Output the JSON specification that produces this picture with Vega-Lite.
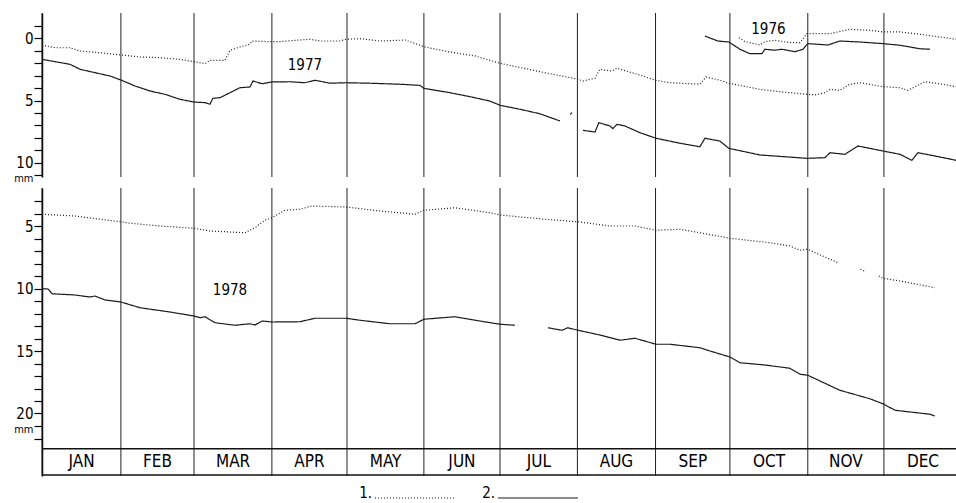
{
  "$schema": "https://vega.github.io/schema/vega-lite/v6.json",
  "background": "white",
  "padding": {"left": 5, "top": 12, "right": 0, "bottom": 0},
  "bounds": "flush",
  "spacing": 11,
  "config": {"view": {"stroke": null}, "font": "Liberation Sans Narrow, DejaVu Sans Condensed, sans-serif"},
  "resolve": {"scale": {"x": "shared", "y": "independent", "strokeDash": "shared"}, "legend": {"strokeDash": "shared"}},
  "datasets": {
    "months": [
      {"month": "JAN", "start": 0, "mid": 15.7},
      {"month": "FEB", "start": 31.3, "mid": 45.8},
      {"month": "MAR", "start": 60.3, "mid": 75.8},
      {"month": "APR", "start": 91.2, "mid": 106.1},
      {"month": "MAY", "start": 121.0, "mid": 136.3},
      {"month": "JUN", "start": 151.5, "mid": 166.6},
      {"month": "JUL", "start": 181.7, "mid": 197.1},
      {"month": "AUG", "start": 212.4, "mid": 227.9},
      {"month": "SEP", "start": 243.4, "mid": 258.2},
      {"month": "OCT", "start": 272.9, "mid": 288.4},
      {"month": "NOV", "start": 303.8, "mid": 318.9},
      {"month": "DEC", "start": 334.0, "mid": 349.5}
    ],
    "years": [
      {"panel": "top", "label": "1977", "day": 104.3, "mm": 2.14},
      {"panel": "top", "label": "1976", "day": 288.2, "mm": -0.75},
      {"panel": "bottom", "label": "1978", "day": 74.6, "mm": 10.08}
    ],
    "band": [{"edge": "top", "mm": 22.82}, {"edge": "bottom", "mm": 24.92}],
    "series": [
      {"panel": "top", "group": "77d", "series": "1.", "day": 0, "mm": 0.54},
      {"panel": "top", "group": "77d", "series": "1.", "day": 5.2, "mm": 0.76},
      {"panel": "top", "group": "77d", "series": "1.", "day": 11.1, "mm": 0.76},
      {"panel": "top", "group": "77d", "series": "1.", "day": 15.1, "mm": 1.02},
      {"panel": "top", "group": "77d", "series": "1.", "day": 23.0, "mm": 1.16},
      {"panel": "top", "group": "77d", "series": "1.", "day": 31.3, "mm": 1.34},
      {"panel": "top", "group": "77d", "series": "1.", "day": 38.9, "mm": 1.50},
      {"panel": "top", "group": "77d", "series": "1.", "day": 46.8, "mm": 1.56},
      {"panel": "top", "group": "77d", "series": "1.", "day": 54.7, "mm": 1.69},
      {"panel": "top", "group": "77d", "series": "1.", "day": 60.3, "mm": 1.88},
      {"panel": "top", "group": "77d", "series": "1.", "day": 64.7, "mm": 2.04},
      {"panel": "top", "group": "77d", "series": "1.", "day": 66.6, "mm": 1.77},
      {"panel": "top", "group": "77d", "series": "1.", "day": 72.6, "mm": 1.77},
      {"panel": "top", "group": "77d", "series": "1.", "day": 74.6, "mm": 0.96},
      {"panel": "top", "group": "77d", "series": "1.", "day": 78.5, "mm": 0.70},
      {"panel": "top", "group": "77d", "series": "1.", "day": 82.5, "mm": 0.48},
      {"panel": "top", "group": "77d", "series": "1.", "day": 83.3, "mm": 0.22},
      {"panel": "top", "group": "77d", "series": "1.", "day": 90.4, "mm": 0.27},
      {"panel": "top", "group": "77d", "series": "1.", "day": 94.4, "mm": 0.27},
      {"panel": "top", "group": "77d", "series": "1.", "day": 102.3, "mm": 0.14},
      {"panel": "top", "group": "77d", "series": "1.", "day": 106.3, "mm": 0.08},
      {"panel": "top", "group": "77d", "series": "1.", "day": 110.3, "mm": 0.22},
      {"panel": "top", "group": "77d", "series": "1.", "day": 118.2, "mm": 0.22},
      {"panel": "top", "group": "77d", "series": "1.", "day": 120.6, "mm": 0.08},
      {"panel": "top", "group": "77d", "series": "1.", "day": 126.1, "mm": 0.03},
      {"panel": "top", "group": "77d", "series": "1.", "day": 134.1, "mm": 0.22},
      {"panel": "top", "group": "77d", "series": "1.", "day": 144.0, "mm": 0.14},
      {"panel": "top", "group": "77d", "series": "1.", "day": 151.9, "mm": 0.70},
      {"panel": "top", "group": "77d", "series": "1.", "day": 161.8, "mm": 1.10},
      {"panel": "top", "group": "77d", "series": "1.", "day": 171.8, "mm": 1.42},
      {"panel": "top", "group": "77d", "series": "1.", "day": 181.7, "mm": 2.01},
      {"panel": "top", "group": "77d", "series": "1.", "day": 197.5, "mm": 2.68},
      {"panel": "top", "group": "77d", "series": "1.", "day": 212.6, "mm": 3.29},
      {"panel": "top", "group": "77d", "series": "1.", "day": 214.6, "mm": 3.43},
      {"panel": "top", "group": "77d", "series": "1.", "day": 219.4, "mm": 3.21},
      {"panel": "top", "group": "77d", "series": "1.", "day": 221.3, "mm": 2.49},
      {"panel": "top", "group": "77d", "series": "1.", "day": 226.1, "mm": 2.63},
      {"panel": "top", "group": "77d", "series": "1.", "day": 228.1, "mm": 2.41},
      {"panel": "top", "group": "77d", "series": "1.", "day": 237.2, "mm": 2.95},
      {"panel": "top", "group": "77d", "series": "1.", "day": 243.2, "mm": 3.37},
      {"panel": "top", "group": "77d", "series": "1.", "day": 249.1, "mm": 3.57},
      {"panel": "top", "group": "77d", "series": "1.", "day": 261.0, "mm": 3.69},
      {"panel": "top", "group": "77d", "series": "1.", "day": 263.4, "mm": 3.11},
      {"panel": "top", "group": "77d", "series": "1.", "day": 268.9, "mm": 3.37},
      {"panel": "top", "group": "77d", "series": "1.", "day": 272.5, "mm": 3.61},
      {"panel": "top", "group": "77d", "series": "1.", "day": 284.8, "mm": 4.10},
      {"panel": "top", "group": "77d", "series": "1.", "day": 292.7, "mm": 4.29},
      {"panel": "top", "group": "77d", "series": "1.", "day": 300.7, "mm": 4.45},
      {"panel": "top", "group": "77d", "series": "1.", "day": 306.6, "mm": 4.55},
      {"panel": "top", "group": "77d", "series": "1.", "day": 310.6, "mm": 4.37},
      {"panel": "top", "group": "77d", "series": "1.", "day": 312.6, "mm": 4.10},
      {"panel": "top", "group": "77d", "series": "1.", "day": 316.5, "mm": 4.18},
      {"panel": "top", "group": "77d", "series": "1.", "day": 320.5, "mm": 3.69},
      {"panel": "top", "group": "77d", "series": "1.", "day": 324.5, "mm": 3.57},
      {"panel": "top", "group": "77d", "series": "1.", "day": 333.6, "mm": 3.89},
      {"panel": "top", "group": "77d", "series": "1.", "day": 340.4, "mm": 3.97},
      {"panel": "top", "group": "77d", "series": "1.", "day": 343.5, "mm": 4.18},
      {"panel": "top", "group": "77d", "series": "1.", "day": 350.3, "mm": 3.49},
      {"panel": "top", "group": "77d", "series": "1.", "day": 356.2, "mm": 3.65},
      {"panel": "top", "group": "77d", "series": "1.", "day": 362.6, "mm": 3.89},

      {"panel": "top", "group": "77s1", "series": "2.", "day": 0, "mm": 1.69},
      {"panel": "top", "group": "77s1", "series": "2.", "day": 5.2, "mm": 1.88},
      {"panel": "top", "group": "77s1", "series": "2.", "day": 11.1, "mm": 2.09},
      {"panel": "top", "group": "77s1", "series": "2.", "day": 15.1, "mm": 2.49},
      {"panel": "top", "group": "77s1", "series": "2.", "day": 21.0, "mm": 2.76},
      {"panel": "top", "group": "77s1", "series": "2.", "day": 27.0, "mm": 3.03},
      {"panel": "top", "group": "77s1", "series": "2.", "day": 31.3, "mm": 3.35},
      {"panel": "top", "group": "77s1", "series": "2.", "day": 36.9, "mm": 3.83},
      {"panel": "top", "group": "77s1", "series": "2.", "day": 42.8, "mm": 4.23},
      {"panel": "top", "group": "77s1", "series": "2.", "day": 48.8, "mm": 4.50},
      {"panel": "top", "group": "77s1", "series": "2.", "day": 54.7, "mm": 4.90},
      {"panel": "top", "group": "77s1", "series": "2.", "day": 60.3, "mm": 5.12},
      {"panel": "top", "group": "77s1", "series": "2.", "day": 64.7, "mm": 5.17},
      {"panel": "top", "group": "77s1", "series": "2.", "day": 66.6, "mm": 5.30},
      {"panel": "top", "group": "77s1", "series": "2.", "day": 67.8, "mm": 4.82},
      {"panel": "top", "group": "77s1", "series": "2.", "day": 70.6, "mm": 4.77},
      {"panel": "top", "group": "77s1", "series": "2.", "day": 74.6, "mm": 4.37},
      {"panel": "top", "group": "77s1", "series": "2.", "day": 78.5, "mm": 3.97},
      {"panel": "top", "group": "77s1", "series": "2.", "day": 82.5, "mm": 3.91},
      {"panel": "top", "group": "77s1", "series": "2.", "day": 83.7, "mm": 3.43},
      {"panel": "top", "group": "77s1", "series": "2.", "day": 87.3, "mm": 3.65},
      {"panel": "top", "group": "77s1", "series": "2.", "day": 91.2, "mm": 3.51},
      {"panel": "top", "group": "77s1", "series": "2.", "day": 98.4, "mm": 3.49},
      {"panel": "top", "group": "77s1", "series": "2.", "day": 104.3, "mm": 3.57},
      {"panel": "top", "group": "77s1", "series": "2.", "day": 108.3, "mm": 3.37},
      {"panel": "top", "group": "77s1", "series": "2.", "day": 114.2, "mm": 3.61},
      {"panel": "top", "group": "77s1", "series": "2.", "day": 120.6, "mm": 3.57},
      {"panel": "top", "group": "77s1", "series": "2.", "day": 130.1, "mm": 3.61},
      {"panel": "top", "group": "77s1", "series": "2.", "day": 142.0, "mm": 3.69},
      {"panel": "top", "group": "77s1", "series": "2.", "day": 149.9, "mm": 3.78},
      {"panel": "top", "group": "77s1", "series": "2.", "day": 151.5, "mm": 4.02},
      {"panel": "top", "group": "77s1", "series": "2.", "day": 161.8, "mm": 4.37},
      {"panel": "top", "group": "77s1", "series": "2.", "day": 169.8, "mm": 4.69},
      {"panel": "top", "group": "77s1", "series": "2.", "day": 177.7, "mm": 5.04},
      {"panel": "top", "group": "77s1", "series": "2.", "day": 181.7, "mm": 5.38},
      {"panel": "top", "group": "77s1", "series": "2.", "day": 189.6, "mm": 5.70},
      {"panel": "top", "group": "77s1", "series": "2.", "day": 197.5, "mm": 6.06},
      {"panel": "top", "group": "77s1", "series": "2.", "day": 205.5, "mm": 6.64},

      {"panel": "top", "group": "77s2", "series": "2.", "day": 209.6, "mm": 6.12},
      {"panel": "top", "group": "77s2", "series": "2.", "day": 210.2, "mm": 5.96},

      {"panel": "top", "group": "77s3", "series": "2.", "day": 214.6, "mm": 7.39},
      {"panel": "top", "group": "77s3", "series": "2.", "day": 219.4, "mm": 7.53},
      {"panel": "top", "group": "77s3", "series": "2.", "day": 220.9, "mm": 6.78},
      {"panel": "top", "group": "77s3", "series": "2.", "day": 225.3, "mm": 7.04},
      {"panel": "top", "group": "77s3", "series": "2.", "day": 226.5, "mm": 7.26},
      {"panel": "top", "group": "77s3", "series": "2.", "day": 228.1, "mm": 6.91},
      {"panel": "top", "group": "77s3", "series": "2.", "day": 231.2, "mm": 7.04},
      {"panel": "top", "group": "77s3", "series": "2.", "day": 237.2, "mm": 7.58},
      {"panel": "top", "group": "77s3", "series": "2.", "day": 243.6, "mm": 8.03},
      {"panel": "top", "group": "77s3", "series": "2.", "day": 253.1, "mm": 8.43},
      {"panel": "top", "group": "77s3", "series": "2.", "day": 261.0, "mm": 8.71},
      {"panel": "top", "group": "77s3", "series": "2.", "day": 263.0, "mm": 8.03},
      {"panel": "top", "group": "77s3", "series": "2.", "day": 268.9, "mm": 8.25},
      {"panel": "top", "group": "77s3", "series": "2.", "day": 272.5, "mm": 8.84},
      {"panel": "top", "group": "77s3", "series": "2.", "day": 284.8, "mm": 9.37},
      {"panel": "top", "group": "77s3", "series": "2.", "day": 303.4, "mm": 9.64},
      {"panel": "top", "group": "77s3", "series": "2.", "day": 310.6, "mm": 9.59},
      {"panel": "top", "group": "77s3", "series": "2.", "day": 312.6, "mm": 9.19},
      {"panel": "top", "group": "77s3", "series": "2.", "day": 318.5, "mm": 9.32},
      {"panel": "top", "group": "77s3", "series": "2.", "day": 323.7, "mm": 8.65},
      {"panel": "top", "group": "77s3", "series": "2.", "day": 333.6, "mm": 9.05},
      {"panel": "top", "group": "77s3", "series": "2.", "day": 340.4, "mm": 9.32},
      {"panel": "top", "group": "77s3", "series": "2.", "day": 345.1, "mm": 9.80},
      {"panel": "top", "group": "77s3", "series": "2.", "day": 347.5, "mm": 9.19},
      {"panel": "top", "group": "77s3", "series": "2.", "day": 354.2, "mm": 9.45},
      {"panel": "top", "group": "77s3", "series": "2.", "day": 362.6, "mm": 9.80},

      {"panel": "top", "group": "76s", "series": "2.", "day": 263.0, "mm": -0.18},
      {"panel": "top", "group": "76s", "series": "2.", "day": 268.1, "mm": 0.22},
      {"panel": "top", "group": "76s", "series": "2.", "day": 272.5, "mm": 0.30},
      {"panel": "top", "group": "76s", "series": "2.", "day": 276.9, "mm": 0.88},
      {"panel": "top", "group": "76s", "series": "2.", "day": 280.8, "mm": 1.24},
      {"panel": "top", "group": "76s", "series": "2.", "day": 285.6, "mm": 1.24},
      {"panel": "top", "group": "76s", "series": "2.", "day": 286.8, "mm": 0.88},
      {"panel": "top", "group": "76s", "series": "2.", "day": 290.8, "mm": 0.96},
      {"panel": "top", "group": "76s", "series": "2.", "day": 293.5, "mm": 0.88},
      {"panel": "top", "group": "76s", "series": "2.", "day": 298.7, "mm": 1.08},
      {"panel": "top", "group": "76s", "series": "2.", "day": 301.9, "mm": 0.88},
      {"panel": "top", "group": "76s", "series": "2.", "day": 303.8, "mm": 0.43},
      {"panel": "top", "group": "76s", "series": "2.", "day": 311.8, "mm": 0.54},
      {"panel": "top", "group": "76s", "series": "2.", "day": 316.5, "mm": 0.22},
      {"panel": "top", "group": "76s", "series": "2.", "day": 324.5, "mm": 0.30},
      {"panel": "top", "group": "76s", "series": "2.", "day": 333.6, "mm": 0.43},
      {"panel": "top", "group": "76s", "series": "2.", "day": 340.4, "mm": 0.56},
      {"panel": "top", "group": "76s", "series": "2.", "day": 348.3, "mm": 0.84},
      {"panel": "top", "group": "76s", "series": "2.", "day": 352.3, "mm": 0.88},

      {"panel": "top", "group": "76d", "series": "1.", "day": 276.5, "mm": -0.05},
      {"panel": "top", "group": "76d", "series": "1.", "day": 278.9, "mm": 0.27},
      {"panel": "top", "group": "76d", "series": "1.", "day": 284.8, "mm": 0.54},
      {"panel": "top", "group": "76d", "series": "1.", "day": 286.8, "mm": 0.27},
      {"panel": "top", "group": "76d", "series": "1.", "day": 290.8, "mm": 0.16},
      {"panel": "top", "group": "76d", "series": "1.", "day": 296.7, "mm": 0.35},
      {"panel": "top", "group": "76d", "series": "1.", "day": 300.7, "mm": 0.35},
      {"panel": "top", "group": "76d", "series": "1.", "day": 303.4, "mm": -0.37},
      {"panel": "top", "group": "76d", "series": "1.", "day": 312.6, "mm": -0.37},
      {"panel": "top", "group": "76d", "series": "1.", "day": 320.5, "mm": -0.72},
      {"panel": "top", "group": "76d", "series": "1.", "day": 328.4, "mm": -0.64},
      {"panel": "top", "group": "76d", "series": "1.", "day": 333.6, "mm": -0.51},
      {"panel": "top", "group": "76d", "series": "1.", "day": 340.4, "mm": -0.51},
      {"panel": "top", "group": "76d", "series": "1.", "day": 346.3, "mm": -0.37},
      {"panel": "top", "group": "76d", "series": "1.", "day": 351.5, "mm": -0.24},
      {"panel": "top", "group": "76d", "series": "1.", "day": 362.6, "mm": 0.08},

      {"panel": "bottom", "group": "78d1", "series": "1.", "day": 0, "mm": 4.06},
      {"panel": "bottom", "group": "78d1", "series": "1.", "day": 13.1, "mm": 4.20},
      {"panel": "bottom", "group": "78d1", "series": "1.", "day": 23.0, "mm": 4.46},
      {"panel": "bottom", "group": "78d1", "series": "1.", "day": 31.3, "mm": 4.66},
      {"panel": "bottom", "group": "78d1", "series": "1.", "day": 34.9, "mm": 4.78},
      {"panel": "bottom", "group": "78d1", "series": "1.", "day": 46.8, "mm": 5.00},
      {"panel": "bottom", "group": "78d1", "series": "1.", "day": 60.3, "mm": 5.18},
      {"panel": "bottom", "group": "78d1", "series": "1.", "day": 66.6, "mm": 5.40},
      {"panel": "bottom", "group": "78d1", "series": "1.", "day": 80.5, "mm": 5.54},
      {"panel": "bottom", "group": "78d1", "series": "1.", "day": 84.5, "mm": 5.14},
      {"panel": "bottom", "group": "78d1", "series": "1.", "day": 88.5, "mm": 4.52},
      {"panel": "bottom", "group": "78d1", "series": "1.", "day": 91.2, "mm": 4.34},
      {"panel": "bottom", "group": "78d1", "series": "1.", "day": 96.4, "mm": 3.74},
      {"panel": "bottom", "group": "78d1", "series": "1.", "day": 102.3, "mm": 3.66},
      {"panel": "bottom", "group": "78d1", "series": "1.", "day": 107.1, "mm": 3.40},
      {"panel": "bottom", "group": "78d1", "series": "1.", "day": 120.6, "mm": 3.48},
      {"panel": "bottom", "group": "78d1", "series": "1.", "day": 134.1, "mm": 3.80},
      {"panel": "bottom", "group": "78d1", "series": "1.", "day": 148.0, "mm": 4.06},
      {"panel": "bottom", "group": "78d1", "series": "1.", "day": 151.5, "mm": 3.74},
      {"panel": "bottom", "group": "78d1", "series": "1.", "day": 163.8, "mm": 3.54},
      {"panel": "bottom", "group": "78d1", "series": "1.", "day": 177.7, "mm": 3.94},
      {"panel": "bottom", "group": "78d1", "series": "1.", "day": 181.7, "mm": 4.12},
      {"panel": "bottom", "group": "78d1", "series": "1.", "day": 199.5, "mm": 4.46},
      {"panel": "bottom", "group": "78d1", "series": "1.", "day": 212.6, "mm": 4.66},
      {"panel": "bottom", "group": "78d1", "series": "1.", "day": 225.3, "mm": 5.00},
      {"panel": "bottom", "group": "78d1", "series": "1.", "day": 235.2, "mm": 5.00},
      {"panel": "bottom", "group": "78d1", "series": "1.", "day": 243.6, "mm": 5.34},
      {"panel": "bottom", "group": "78d1", "series": "1.", "day": 253.1, "mm": 5.26},
      {"panel": "bottom", "group": "78d1", "series": "1.", "day": 261.0, "mm": 5.54},
      {"panel": "bottom", "group": "78d1", "series": "1.", "day": 272.9, "mm": 5.98},
      {"panel": "bottom", "group": "78d1", "series": "1.", "day": 288.8, "mm": 6.34},
      {"panel": "bottom", "group": "78d1", "series": "1.", "day": 296.7, "mm": 6.60},
      {"panel": "bottom", "group": "78d1", "series": "1.", "day": 300.7, "mm": 6.94},
      {"panel": "bottom", "group": "78d1", "series": "1.", "day": 303.8, "mm": 6.86},
      {"panel": "bottom", "group": "78d1", "series": "1.", "day": 315.7, "mm": 7.94},
      {"panel": "bottom", "group": "78d2", "series": "1.", "day": 324.7, "mm": 8.46},
      {"panel": "bottom", "group": "78d2", "series": "1.", "day": 326.9, "mm": 8.66},
      {"panel": "bottom", "group": "78d3", "series": "1.", "day": 332.0, "mm": 9.00},
      {"panel": "bottom", "group": "78d3", "series": "1.", "day": 333.6, "mm": 9.18},
      {"panel": "bottom", "group": "78d3", "series": "1.", "day": 340.4, "mm": 9.40},
      {"panel": "bottom", "group": "78d3", "series": "1.", "day": 354.2, "mm": 9.94},

      {"panel": "bottom", "group": "78s1", "series": "2.", "day": 0, "mm": 10.02},
      {"panel": "bottom", "group": "78s1", "series": "2.", "day": 2.4, "mm": 10.04},
      {"panel": "bottom", "group": "78s1", "series": "2.", "day": 4.0, "mm": 10.42},
      {"panel": "bottom", "group": "78s1", "series": "2.", "day": 13.1, "mm": 10.52},
      {"panel": "bottom", "group": "78s1", "series": "2.", "day": 19.0, "mm": 10.68},
      {"panel": "bottom", "group": "78s1", "series": "2.", "day": 21.0, "mm": 10.60},
      {"panel": "bottom", "group": "78s1", "series": "2.", "day": 25.0, "mm": 10.92},
      {"panel": "bottom", "group": "78s1", "series": "2.", "day": 31.3, "mm": 11.08},
      {"panel": "bottom", "group": "78s1", "series": "2.", "day": 38.9, "mm": 11.54},
      {"panel": "bottom", "group": "78s1", "series": "2.", "day": 50.8, "mm": 11.88},
      {"panel": "bottom", "group": "78s1", "series": "2.", "day": 60.3, "mm": 12.20},
      {"panel": "bottom", "group": "78s1", "series": "2.", "day": 62.7, "mm": 12.34},
      {"panel": "bottom", "group": "78s1", "series": "2.", "day": 64.7, "mm": 12.26},
      {"panel": "bottom", "group": "78s1", "series": "2.", "day": 68.6, "mm": 12.74},
      {"panel": "bottom", "group": "78s1", "series": "2.", "day": 76.6, "mm": 12.94},
      {"panel": "bottom", "group": "78s1", "series": "2.", "day": 82.5, "mm": 12.82},
      {"panel": "bottom", "group": "78s1", "series": "2.", "day": 84.5, "mm": 12.92},
      {"panel": "bottom", "group": "78s1", "series": "2.", "day": 87.3, "mm": 12.60},
      {"panel": "bottom", "group": "78s1", "series": "2.", "day": 91.2, "mm": 12.68},
      {"panel": "bottom", "group": "78s1", "series": "2.", "day": 102.3, "mm": 12.66},
      {"panel": "bottom", "group": "78s1", "series": "2.", "day": 108.3, "mm": 12.38},
      {"panel": "bottom", "group": "78s1", "series": "2.", "day": 120.6, "mm": 12.38},
      {"panel": "bottom", "group": "78s1", "series": "2.", "day": 126.1, "mm": 12.54},
      {"panel": "bottom", "group": "78s1", "series": "2.", "day": 138.0, "mm": 12.82},
      {"panel": "bottom", "group": "78s1", "series": "2.", "day": 148.0, "mm": 12.82},
      {"panel": "bottom", "group": "78s1", "series": "2.", "day": 151.5, "mm": 12.46},
      {"panel": "bottom", "group": "78s1", "series": "2.", "day": 163.8, "mm": 12.26},
      {"panel": "bottom", "group": "78s1", "series": "2.", "day": 173.7, "mm": 12.60},
      {"panel": "bottom", "group": "78s1", "series": "2.", "day": 181.7, "mm": 12.86},
      {"panel": "bottom", "group": "78s1", "series": "2.", "day": 187.6, "mm": 12.94},
      {"panel": "bottom", "group": "78s2", "series": "2.", "day": 200.7, "mm": 13.14},
      {"panel": "bottom", "group": "78s2", "series": "2.", "day": 206.3, "mm": 13.34},
      {"panel": "bottom", "group": "78s2", "series": "2.", "day": 208.6, "mm": 13.14},
      {"panel": "bottom", "group": "78s2", "series": "2.", "day": 212.6, "mm": 13.34},
      {"panel": "bottom", "group": "78s2", "series": "2.", "day": 221.3, "mm": 13.72},
      {"panel": "bottom", "group": "78s2", "series": "2.", "day": 229.3, "mm": 14.14},
      {"panel": "bottom", "group": "78s2", "series": "2.", "day": 235.2, "mm": 13.98},
      {"panel": "bottom", "group": "78s2", "series": "2.", "day": 243.6, "mm": 14.46},
      {"panel": "bottom", "group": "78s2", "series": "2.", "day": 249.1, "mm": 14.46},
      {"panel": "bottom", "group": "78s2", "series": "2.", "day": 261.0, "mm": 14.74},
      {"panel": "bottom", "group": "78s2", "series": "2.", "day": 265.0, "mm": 15.00},
      {"panel": "bottom", "group": "78s2", "series": "2.", "day": 272.9, "mm": 15.48},
      {"panel": "bottom", "group": "78s2", "series": "2.", "day": 276.9, "mm": 15.94},
      {"panel": "bottom", "group": "78s2", "series": "2.", "day": 286.8, "mm": 16.12},
      {"panel": "bottom", "group": "78s2", "series": "2.", "day": 296.7, "mm": 16.38},
      {"panel": "bottom", "group": "78s2", "series": "2.", "day": 300.7, "mm": 16.86},
      {"panel": "bottom", "group": "78s2", "series": "2.", "day": 303.8, "mm": 16.94},
      {"panel": "bottom", "group": "78s2", "series": "2.", "day": 316.5, "mm": 18.14},
      {"panel": "bottom", "group": "78s2", "series": "2.", "day": 328.4, "mm": 18.82},
      {"panel": "bottom", "group": "78s2", "series": "2.", "day": 333.6, "mm": 19.22},
      {"panel": "bottom", "group": "78s2", "series": "2.", "day": 338.4, "mm": 19.74},
      {"panel": "bottom", "group": "78s2", "series": "2.", "day": 352.3, "mm": 20.06},
      {"panel": "bottom", "group": "78s2", "series": "2.", "day": 354.2, "mm": 20.20}
    ]
  },
  "vconcat": [
    {
      "width": 914,
      "height": 164,
      "layer": [
        {
          "data": {"name": "months"},
          "mark": {"type": "rule", "stroke": "#222", "strokeWidth": 1},
          "encoding": {
            "x": {"field": "start", "type": "quantitative", "scale": {"domain": [0, 362.6], "nice": false, "zero": false}, "axis": null}
          }
        },
        {
          "data": {"name": "series"},
          "transform": [{"filter": "datum.panel == 'top'"}],
          "mark": {"type": "line", "stroke": "#1a1a1a", "strokeWidth": 1.2},
          "encoding": {
            "x": {"field": "day", "type": "quantitative", "scale": {"domain": [0, 362.6], "nice": false, "zero": false}, "axis": null},
            "y": {
              "field": "mm", "type": "quantitative",
              "scale": {"domain": [-2.03, 11.14], "reverse": true, "nice": false, "zero": false},
              "axis": {
                "title": null, "grid": false, "tickCount": 60, "format": "d",
                "values": [-1, 0, 1, 2, 3, 4, 5, 6, 7, 8, 9, 10, 11],
                "labelExpr": "datum.value == 11 ? 'mm' : (datum.value % 5 == 0 ? datum.label : '')",
                "labelFontSize": {"condition": {"test": "datum.value == 11", "value": 11}, "value": 15},
                "labelOffset": {"condition": {"test": "datum.value == 11", "value": 3}, "value": 0},
                "labelColor": "black", "labelPadding": 1, "labelOverlap": false, "labelFlush": false,
                "tickSize": 8, "tickColor": "black", "tickWidth": 1.2,
                "domainColor": "black", "domainWidth": 1.5,
                "minExtent": 37, "maxExtent": 37
              }
            },
            "detail": {"field": "group"},
            "strokeDash": {
              "field": "series", "type": "nominal",
              "scale": {"domain": ["1.", "2."], "range": [[1, 2], [1, 0]]},
              "legend": {
                "title": null, "orient": "none", "legendX": 332, "legendY": 444, "direction": "horizontal",
                "symbolType": "stroke", "symbolSize": 6400, "symbolStrokeWidth": 1.2, "symbolStrokeColor": "#1a1a1a",
                "labelFontSize": 15, "labelColor": "black", "labelAlign": "right", "labelOffset": -84,
                "labelBaseline": "alphabetic", "columnPadding": 24
              }
            }
          }
        },
        {
          "data": {"name": "years"},
          "transform": [{"filter": "datum.panel == 'top'"}],
          "mark": {"type": "text", "fontSize": 15, "color": "black"},
          "encoding": {
            "x": {"field": "day", "type": "quantitative"},
            "y": {"field": "mm", "type": "quantitative"},
            "text": {"field": "label"}
          }
        }
      ]
    },
    {
      "width": 914,
      "height": 288,
      "layer": [
        {
          "data": {"name": "months"},
          "mark": {"type": "rule", "stroke": "#222", "strokeWidth": 1},
          "encoding": {
            "x": {"field": "start", "type": "quantitative", "scale": {"domain": [0, 362.6], "nice": false, "zero": false}, "axis": null}
          }
        },
        {
          "data": {"name": "band"},
          "mark": {"type": "rule", "stroke": "#111", "strokeWidth": 1.6},
          "encoding": {
            "y": {"field": "mm", "type": "quantitative", "scale": {"domain": [1.96, 25], "reverse": true, "nice": false, "zero": false}}
          }
        },
        {
          "data": {"name": "series"},
          "transform": [{"filter": "datum.panel == 'bottom'"}],
          "mark": {"type": "line", "stroke": "#1a1a1a", "strokeWidth": 1.2},
          "encoding": {
            "x": {"field": "day", "type": "quantitative", "scale": {"domain": [0, 362.6], "nice": false, "zero": false}, "axis": null},
            "y": {
              "field": "mm", "type": "quantitative",
              "scale": {"domain": [1.96, 25], "reverse": true, "nice": false, "zero": false},
              "axis": {
                "title": null, "grid": false, "tickCount": 60, "format": "d",
                "values": [3, 4, 5, 6, 7, 8, 9, 10, 11, 12, 13, 14, 15, 16, 17, 18, 19, 20, 21, 22],
                "labelExpr": "datum.value == 21 ? 'mm' : (datum.value % 5 == 0 ? datum.label : '')",
                "labelFontSize": {"condition": {"test": "datum.value == 21", "value": 11}, "value": 15},
                "labelOffset": {"condition": {"test": "datum.value == 21", "value": 3}, "value": 0},
                "labelColor": "black", "labelPadding": 1, "labelOverlap": false, "labelFlush": false,
                "tickSize": 8, "tickColor": "black", "tickWidth": 1.2,
                "domainColor": "black", "domainWidth": 1.5,
                "minExtent": 37, "maxExtent": 37
              }
            },
            "detail": {"field": "group"},
            "strokeDash": {
              "field": "series", "type": "nominal",
              "scale": {"domain": ["1.", "2."], "range": [[1, 2], [1, 0]]},
              "legend": {
                "title": null, "orient": "none", "legendX": 332, "legendY": 444, "direction": "horizontal",
                "symbolType": "stroke", "symbolSize": 6400, "symbolStrokeWidth": 1.2, "symbolStrokeColor": "#1a1a1a",
                "labelFontSize": 15, "labelColor": "black", "labelAlign": "right", "labelOffset": -84,
                "labelBaseline": "alphabetic", "columnPadding": 24
              }
            }
          }
        },
        {
          "data": {"name": "years"},
          "transform": [{"filter": "datum.panel == 'bottom'"}],
          "mark": {"type": "text", "fontSize": 15, "color": "black"},
          "encoding": {
            "x": {"field": "day", "type": "quantitative"},
            "y": {"field": "mm", "type": "quantitative"},
            "text": {"field": "label"}
          }
        },
        {
          "data": {"name": "months"},
          "mark": {"type": "text", "fontSize": 17, "font": "DejaVu Sans Condensed", "color": "black", "baseline": "middle"},
          "encoding": {
            "x": {"field": "mid", "type": "quantitative"},
            "y": {"datum": 23.9, "type": "quantitative"},
            "text": {"field": "month"}
          }
        }
      ]
    }
  ]
}
